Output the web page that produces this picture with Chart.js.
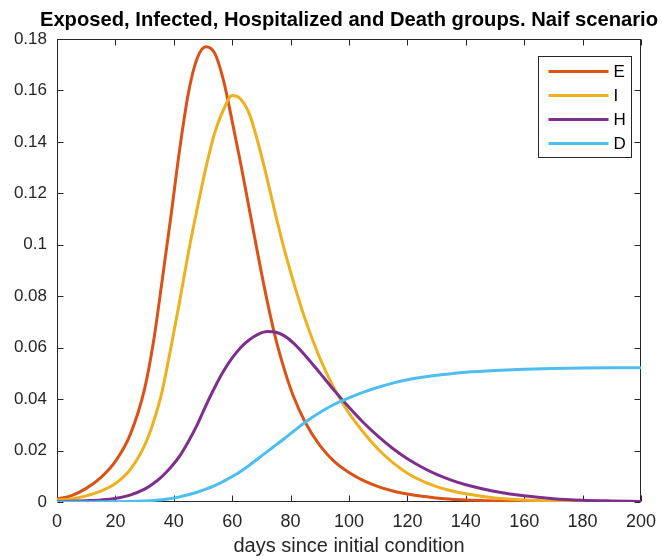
<!DOCTYPE html>
<html>
<head>
<meta charset="utf-8">
<script src="https://cdn.jsdelivr.net/npm/chart.js@4.4.1/dist/chart.umd.min.js"></script>
<style>
  html, body { margin: 0; padding: 0; background: #ffffff; }
  #wrap { width: 662px; height: 556px; }
</style>
</head>
<body>
<div id="wrap"><canvas id="chart" width="662" height="556"></canvas></div>
<script>
// values
const days = [0, 5, 10, 15, 20, 25, 30, 33, 36, 39, 42, 45, 48, 51, 54, 57, 60, 63, 66, 69, 72, 75, 78, 81,
  85, 90, 95, 100, 105, 110, 115, 120, 125, 130, 135, 140, 150, 160, 170, 180, 190, 200];

const exposed = [0.0012, 0.0025, 0.0053, 0.0095, 0.0158, 0.026, 0.044, 0.062, 0.086, 0.111, 0.137, 0.159,
  0.1725, 0.177, 0.1745, 0.164, 0.148, 0.131, 0.113, 0.095, 0.078, 0.063, 0.051, 0.041,
  0.031, 0.022, 0.0157, 0.0115, 0.0083, 0.006, 0.0043, 0.0031, 0.0022, 0.0016, 0.0011, 0.0008,
  0.0004, 0.0002, 0.0001, 0.00005, 0, 0];

const infected = [0.0008, 0.0012, 0.0024, 0.0042, 0.0072, 0.0125, 0.022, 0.031, 0.043, 0.060, 0.078, 0.097,
  0.114, 0.130, 0.1435, 0.1525, 0.158, 0.1565, 0.1505, 0.139, 0.1255, 0.111, 0.0975, 0.0855,
  0.071, 0.056, 0.044, 0.0345, 0.027, 0.0205, 0.0153, 0.0112, 0.0082, 0.006, 0.0044, 0.0032,
  0.0016, 0.0008, 0.0004, 0.0002, 0.0001, 0.0001];

const hospitalized = [0.0002, 0.0003, 0.0005, 0.0008, 0.0014, 0.0027, 0.005, 0.0072, 0.010, 0.0135, 0.0178,
  0.0235, 0.030, 0.0375, 0.0445, 0.0508, 0.056, 0.0602, 0.0632, 0.0653, 0.0663, 0.066, 0.0645, 0.0618,
  0.057, 0.0502, 0.0433, 0.0368, 0.0308, 0.0255, 0.0208, 0.0168, 0.0135, 0.0107, 0.0085, 0.0067,
  0.0041, 0.0024, 0.0013, 0.0007, 0.0004, 0.0002];

const deaths = [0, 0, 0, 0.00005, 0.0001, 0.0002, 0.0004, 0.0006, 0.0009, 0.0014, 0.002, 0.0028, 0.0038,
  0.005, 0.0064, 0.008, 0.0099, 0.012, 0.0144, 0.017, 0.0196, 0.0222, 0.0248, 0.0275,
  0.031, 0.0348, 0.038, 0.0405, 0.0427, 0.0446, 0.0462, 0.0475, 0.0485, 0.0493, 0.0499, 0.0504,
  0.0511, 0.0516, 0.0519, 0.0521, 0.0522, 0.0522];

const seriesNames = ['E', 'I', 'H', 'D'];
const xTickLabels = ['0', '20', '40', '60', '80', '100', '120', '140', '160', '180', '200'];
const yTickLabels = ['0', '0.02', '0.04', '0.06', '0.08', '0.1', '0.12', '0.14', '0.16', '0.18'];

const FONT = '"Liberation Sans", Arial, Helvetica, sans-serif';
const AXIS_COLOR = '#262626';

const toPoints = (values) => values.map((v, i) => ({ x: days[i], y: v }));

// MATLAB style: box on all four sides, ticks pointing inward
const boxAxes = {
  id: 'boxAxes',
  beforeDatasetsDraw(chart) {
    const { ctx, chartArea: a, scales } = chart;
    const L = Math.round(a.left) + 0.5, R = Math.round(a.right) - 0.5;
    const T = Math.round(a.top) + 0.5, B = Math.round(a.bottom) - 0.5;
    const len = 6;
    ctx.save();
    ctx.strokeStyle = AXIS_COLOR;
    ctx.lineWidth = 1;
    ctx.beginPath();
    scales.x.ticks.forEach(t => {
      const px = Math.round(scales.x.getPixelForValue(t.value)) + 0.5;
      ctx.moveTo(px, B); ctx.lineTo(px, B - len);
      ctx.moveTo(px, T); ctx.lineTo(px, T + len);
    });
    scales.y.ticks.forEach(t => {
      const py = Math.round(scales.y.getPixelForValue(t.value)) + 0.5;
      ctx.moveTo(L, py); ctx.lineTo(L + len, py);
      ctx.moveTo(R, py); ctx.lineTo(R - len, py);
    });
    ctx.stroke();
    ctx.strokeRect(L, T, R - L, B - T);
    ctx.restore();
  }
};

// legend box in the top right corner of the axes
const boxLegend = {
  id: 'boxLegend',
  afterDatasetsDraw(chart) {
    const { ctx, chartArea: a } = chart;
    const w = 93, h = 101;
    const x0 = Math.round(a.right) - 10 - w + 0.5;
    const y0 = Math.round(a.top) + 17 + 0.5;
    ctx.save();
    ctx.fillStyle = '#ffffff';
    ctx.fillRect(x0, y0, w, h);
    ctx.strokeStyle = AXIS_COLOR;
    ctx.lineWidth = 1;
    ctx.strokeRect(x0, y0, w, h);
    ctx.font = '17px ' + FONT;
    ctx.textBaseline = 'middle';
    ctx.textAlign = 'left';
    chart.data.datasets.forEach((ds, i) => {
      const y = y0 + 15 + i * 24;
      ctx.strokeStyle = ds.borderColor;
      ctx.lineWidth = 3;
      ctx.beginPath();
      ctx.moveTo(x0 + 10, y);
      ctx.lineTo(x0 + 70, y);
      ctx.stroke();
      ctx.fillStyle = '#000000';
      ctx.fillText(ds.label, x0 + 75, y + 1);
    });
    ctx.restore();
  }
};

const colors = ['#D95319', '#EDB120', '#7E2F8E', '#4DBEEE'];
const allSeries = [exposed, infected, hospitalized, deaths];

new Chart(document.getElementById('chart'), {
  type: 'line',
  data: {
    datasets: allSeries.map((vals, i) => ({
      label: seriesNames[i],
      data: toPoints(vals),
      borderColor: colors[i],
      backgroundColor: colors[i],
      borderWidth: 3,
      pointRadius: 0,
      cubicInterpolationMode: 'monotone',
      fill: false,
      order: allSeries.length - 1 - i
    }))
  },
  options: {
    responsive: false,
    animation: false,
    layout: { padding: { left: 0, right: 4, top: 0, bottom: 0 } },
    plugins: {
      legend: { display: false },
      tooltip: { enabled: false },
      title: {
        display: true,
        fullSize: true,
        align: 'end',
        text: 'Exposed, Infected, Hospitalized and Death groups. Naif scenario',
        color: '#000000',
        font: { family: FONT, size: 20.2, weight: 'bold', lineHeight: 1.1 },
        padding: { top: 9.5, bottom: 7.3 }
      }
    },
    scales: {
      x: {
        type: 'linear',
        min: 0,
        max: 200,
        grid: { display: false, drawTicks: false },
        border: { display: false },
        afterBuildTicks: (scale) => {
          scale.ticks = xTickLabels.map(v => ({ value: Number(v) }));
        },
        ticks: {
          padding: 9,
          maxRotation: 0,
          color: AXIS_COLOR,
          font: { family: FONT, size: 18 },
          callback: (value, index) => xTickLabels[index]
        },
        title: {
          display: true,
          text: 'days since initial condition',
          color: AXIS_COLOR,
          font: { family: FONT, size: 20, lineHeight: 1 },
          padding: { top: 0, bottom: 0 }
        },
        afterFit: (scale) => {
          scale.height = 54;
          scale.paddingLeft = 0;
          scale.paddingRight = 21;
        }
      },
      y: {
        min: 0,
        max: 0.18,
        grid: { display: false, drawTicks: false },
        border: { display: false },
        afterBuildTicks: (scale) => {
          scale.ticks = yTickLabels.map(v => ({ value: Number(v) }));
        },
        ticks: {
          padding: 10,
          color: AXIS_COLOR,
          font: { family: FONT, size: 17 },
          callback: (value, index) => yTickLabels[index]
        },
        afterFit: (scale) => {
          scale.width = 57;
          scale.paddingTop = 0;
          scale.paddingBottom = 0;
        }
      }
    }
  },
  plugins: [boxAxes, boxLegend]
});
</script>
</body>
</html>
